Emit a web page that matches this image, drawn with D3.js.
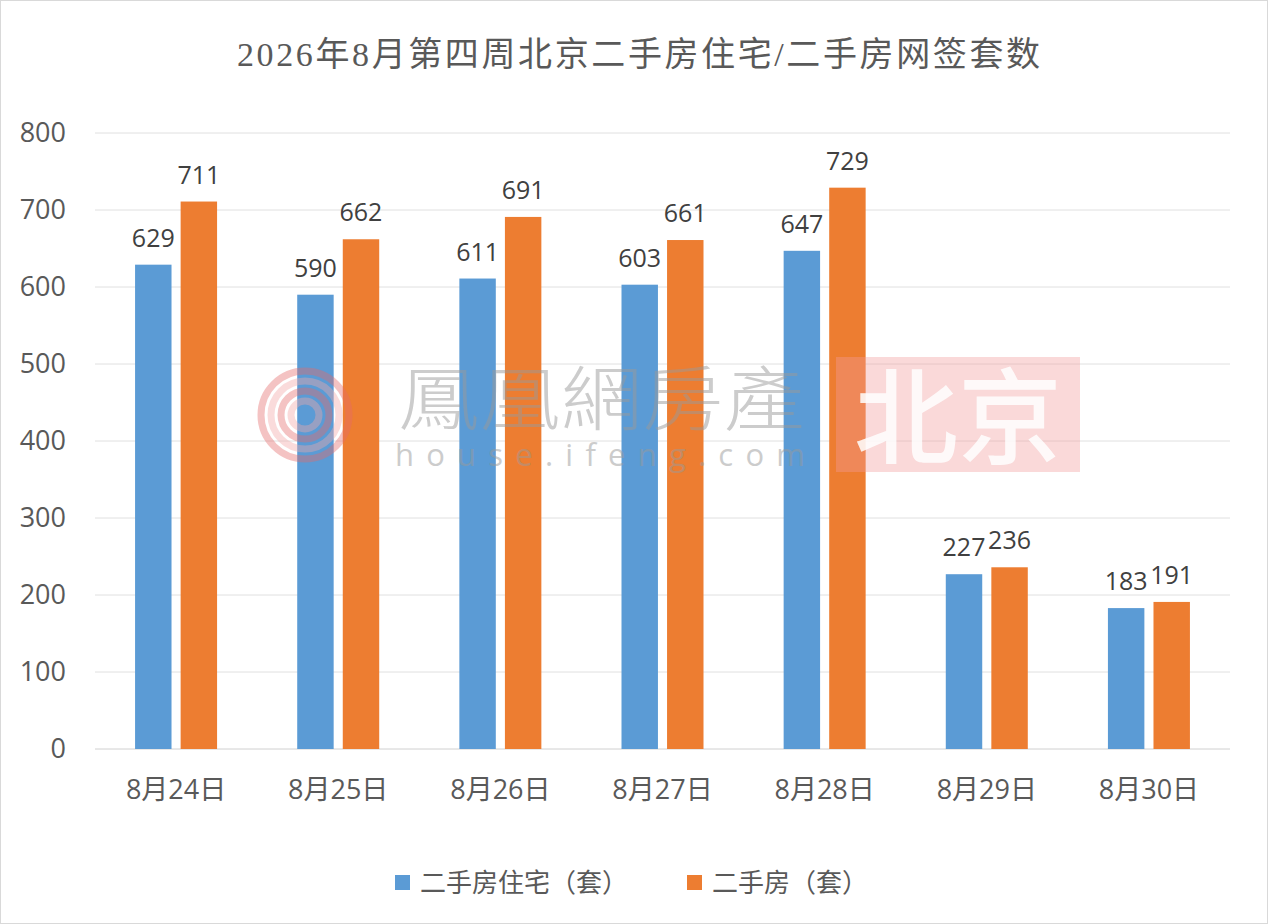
<!DOCTYPE html>
<html>
<head>
<meta charset="utf-8">
<script src="https://cdn.jsdelivr.net/npm/d3@7/dist/d3.min.js"></script>
<style>
  body { margin: 0; background: #fff; }
  svg text { font-family: "Open Sans", "Noto Sans CJK SC", sans-serif; }
</style>
</head>
<body>
<div id="chart"></div>
<script>
const categories = ['8月24日', '8月25日', '8月26日', '8月27日', '8月28日', '8月29日', '8月30日'];
const residential = [629, 590, 611, 603, 647, 227, 183];
const allSecondHand = [711, 662, 691, 661, 729, 236, 191];
const seriesNames = ['二手房住宅（套）', '二手房（套）'];
const seriesColours = ['#5b9bd5', '#ed7d31'];
const yTicks = [0, 100, 200, 300, 400, 500, 600, 700, 800];

const width = 1268, height = 924;
const margin = {top: 133, right: 38, bottom: 175, left: 95};
const innerW = width - margin.left - margin.right;
const innerH = height - margin.top - margin.bottom;
const axisSize = '27px';
const valueSize = '25px';

const svg = d3.select('#chart').append('svg')
  .attr('width', width)
  .attr('height', height);

// outer frame
svg.append('rect')
  .attr('x', 0.5).attr('y', 0.5)
  .attr('width', width - 1).attr('height', height - 1)
  .attr('fill', '#fff')
  .attr('stroke', '#d9d9d9');

// title
svg.append('text')
  .attr('x', 237).attr('y', 66)
  .attr('fill', '#595959')
  .attr('textLength', 803)
  .attr('lengthAdjust', 'spacing')
  .style('font-family', '"Liberation Serif", "Noto Sans CJK SC", serif')
  .style('font-size', '34px')
  .text('2026年8月第四周北京二手房住宅/二手房网签套数');

const g = svg.append('g')
  .attr('transform', `translate(${margin.left},${margin.top})`);

const x = d3.scaleBand()
  .domain(categories)
  .range([0, innerW]);

const xInner = d3.scaleBand()
  .domain([0, 1])
  .range([x.bandwidth() / 2 - 41, x.bandwidth() / 2 + 41])
  .paddingInner(0.2);

const y = d3.scaleLinear()
  .domain([0, 800])
  .range([innerH, 0]);

// gridlines
g.append('g')
  .attr('class', 'grid')
  .selectAll('line')
  .data(yTicks)
  .enter().append('line')
    .attr('x1', 0).attr('x2', innerW)
    .attr('y1', d => y(d)).attr('y2', d => y(d))
    .attr('stroke', d => d === 0 ? '#d0d0d0' : '#e0e0e0')
    .attr('stroke-width', 1);

// y axis labels
const yAxis = g.append('g')
  .call(d3.axisLeft(y).tickValues(yTicks).tickSize(0).tickPadding(29));
yAxis.select('.domain').remove();
yAxis.selectAll('text')
  .attr('fill', '#595959')
  .style('font-size', axisSize);

// x axis labels
const xAxis = g.append('g')
  .attr('transform', `translate(0,${innerH})`)
  .call(d3.axisBottom(x).tickSize(0).tickPadding(31));
xAxis.select('.domain').remove();
xAxis.selectAll('text')
  .attr('fill', '#595959')
  .style('font-size', axisSize);

// bars
const series = [residential, allSecondHand];
series.forEach((values, i) => {
  const grp = g.append('g').attr('class', 'series-' + i);
  grp.selectAll('rect')
    .data(values)
    .enter().append('rect')
      .attr('x', (d, j) => x(categories[j]) + xInner(i))
      .attr('y', d => y(d))
      .attr('width', xInner.bandwidth())
      .attr('height', d => innerH - y(d))
      .attr('fill', seriesColours[i]);

  grp.selectAll('text')
    .data(values)
    .enter().append('text')
      .attr('x', (d, j) => x(categories[j]) + xInner(i) + xInner.bandwidth() / 2)
      .attr('y', d => y(d) - 18)
      .attr('text-anchor', 'middle')
      .attr('fill', '#404040')
      .style('font-size', valueSize)
      .text(d => d);
});

// watermark overlay (on top of bars, translucent)
const wm = svg.append('g').attr('class', 'wm');
const logo = wm.append('g').attr('transform', 'translate(305,415)').attr('opacity', 0.4);
[44, 34, 24, 14].forEach((r, k) => {
  logo.append('circle')
    .attr('r', r)
    .attr('fill', 'none')
    .attr('stroke', k % 2 ? '#f3a8a8' : '#e66a6a')
    .attr('stroke-width', 7);
});
wm.append('text')
  .attr('x', 398).attr('y', 425)
  .attr('fill', '#9a9a9a')
  .attr('opacity', 0.5)
  .attr('textLength', 407)
  .attr('lengthAdjust', 'spacingAndGlyphs')
  .style('font-family', '"Noto Sans CJK TC", "Noto Sans CJK SC", sans-serif')
  .style('font-size', '70px')
  .style('font-weight', 300)
  .text('鳳凰網房產');
wm.append('text')
  .attr('x', 395).attr('y', 466)
  .attr('fill', '#9a9a9a')
  .attr('opacity', 0.5)
  .attr('textLength', 410)
  .attr('lengthAdjust', 'spacing')
  .style('font-family', '"Open Sans", sans-serif')
  .style('font-size', '31px')
  .text('house.ifeng.com');
wm.append('rect')
  .attr('x', 836).attr('y', 357)
  .attr('width', 244).attr('height', 115)
  .attr('fill', '#f39a9a')
  .attr('opacity', 0.38);
wm.append('text')
  .attr('x', 958).attr('y', 456)
  .attr('text-anchor', 'middle')
  .attr('fill', '#ffffff')
  .attr('opacity', 0.85)
  .style('font-family', '"Noto Sans CJK SC", sans-serif')
  .style('font-size', '104px')
  .style('font-weight', 500)
  .text('北京');

// legend
const legend = svg.append('g').attr('class', 'legend')
  .attr('transform', 'translate(395,882)');
const legendX = [0, 292];
seriesNames.forEach((name, i) => {
  const item = legend.append('g').attr('transform', `translate(${legendX[i]},0)`);
  item.append('rect')
    .attr('x', 0).attr('y', -7)
    .attr('width', 15).attr('height', 15)
    .attr('fill', seriesColours[i]);
  item.append('text')
    .attr('x', 25).attr('y', 10)
    .attr('fill', '#595959')
    .style('font-size', '26px')
    .text(name);
});
</script>
</body>
</html>
